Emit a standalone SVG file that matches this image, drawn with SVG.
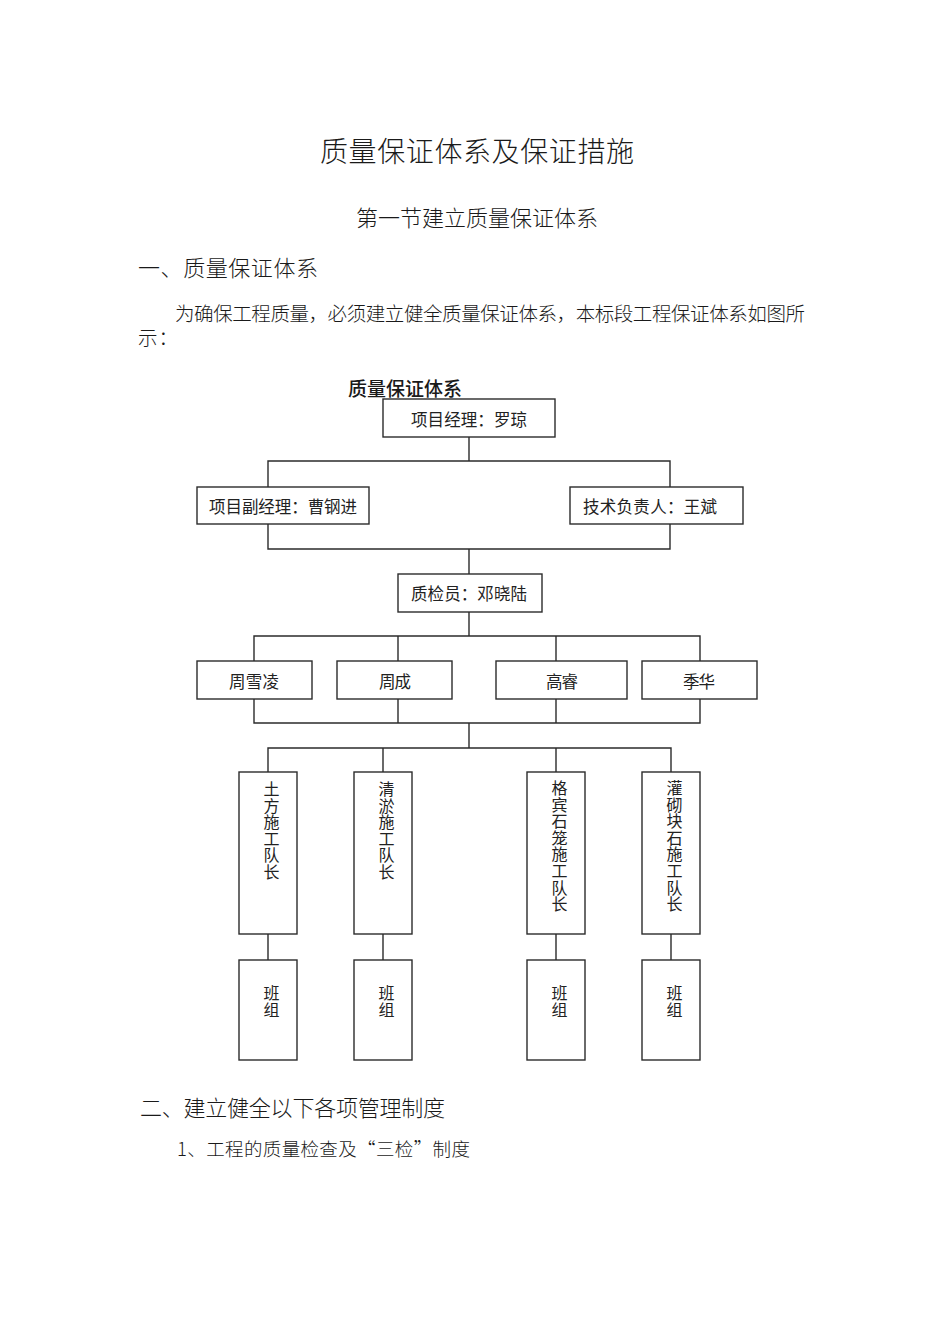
<svg xmlns="http://www.w3.org/2000/svg" width="950" height="1344" viewBox="0 0 950 1344">
<style>
text{font-family:"Noto Sans CJK SC","Liberation Serif",serif;fill:#1a1a1a}
.doc{font-weight:300}
.box{fill:#fff;stroke:#2b2b2b;stroke-width:1.4}
.lbl{font-size:16.5px;text-anchor:middle;fill:#222}
.vt{font-size:16px;fill:#222;writing-mode:vertical-rl;text-orientation:upright;letter-spacing:0.6px}
.ln{fill:none;stroke:#2b2b2b;stroke-width:1.4}
</style>
<rect width="950" height="1344" fill="#fff"/>
<g id="doc-text" class="doc">
<text x="477" y="162" font-size="28" text-anchor="middle" textLength="314">质量保证体系及保证措施</text>
<text x="477" y="226" font-size="22" text-anchor="middle" textLength="242">第一节建立质量保证体系</text>
<text x="138" y="276" font-size="22" textLength="180">一、质量保证体系</text>
<text x="175" y="321" font-size="19.5" textLength="630">为确保工程质量，必须建立健全质量保证体系，本标段工程保证体系如图所</text>
<text x="138" y="345" font-size="19.5" textLength="40">示：</text>
<text x="140" y="1116" font-size="22" textLength="305">二、建立健全以下各项管理制度</text>
<text x="177" y="1156" font-size="18.5" textLength="293">1、工程的质量检查及“三检”制度</text>
</g>
<text id="chart-title" x="405" y="396" font-size="19" font-weight="500" text-anchor="middle" textLength="114" fill="#111">质量保证体系</text>
<g id="connectors">
<path class="ln" d="M469 437V461M268 487V461H670V487M268 524V549H670V524M469 549V574M469 612V636M254 661V636H700V661M398 636V661M556 636V661M254 699V723H700V699M398 699V723M556 699V723M469 723V748M268 772V748H671V772M383 748V772M556 748V772M268 934V960M383 934V960M556 934V960M671 934V960"/>
</g>
<g id="n-pm"><rect class="box" x="383" y="399" width="172" height="38"/><text class="lbl" x="469" y="426" textLength="116">项目经理：罗琼</text></g>
<g id="n-dpm"><rect class="box" x="197" y="487" width="172" height="37"/><text class="lbl" x="283" y="513" textLength="148">项目副经理：曹钢进</text></g>
<g id="n-tech"><rect class="box" x="570" y="487" width="173" height="37"/><text class="lbl" x="650" y="513" textLength="134">技术负责人：王斌</text></g>
<g id="n-qc"><rect class="box" x="398" y="574" width="144" height="38"/><text class="lbl" x="469" y="600" textLength="116">质检员：邓晓陆</text></g>
<g id="n-m1"><rect class="box" x="197" y="661" width="115" height="38"/><text class="lbl" x="254" y="688" textLength="50">周雪凌</text></g>
<g id="n-m2"><rect class="box" x="337" y="661" width="115" height="38"/><text class="lbl" x="395" y="688" textLength="32">周成</text></g>
<g id="n-m3"><rect class="box" x="496" y="661" width="131" height="38"/><text class="lbl" x="562" y="688" textLength="32">高睿</text></g>
<g id="n-m4"><rect class="box" x="642" y="661" width="115" height="38"/><text class="lbl" x="699" y="688" textLength="32">季华</text></g>
<g id="n-t1"><rect class="box" x="239" y="772" width="58" height="162"/><text class="vt" x="271.5" y="781">土方施工队长</text></g>
<g id="n-t2"><rect class="box" x="354" y="772" width="58" height="162"/><text class="vt" x="386.5" y="781">清淤施工队长</text></g>
<g id="n-t3"><rect class="box" x="527" y="772" width="58" height="162"/><text class="vt" x="559.5" y="780">格宾石笼施工队长</text></g>
<g id="n-t4"><rect class="box" x="642" y="772" width="58" height="162"/><text class="vt" x="674.5" y="780">灌砌块石施工队长</text></g>
<g id="n-g1"><rect class="box" x="239" y="960" width="58" height="100"/><text class="vt" x="271.5" y="985">班组</text></g>
<g id="n-g2"><rect class="box" x="354" y="960" width="58" height="100"/><text class="vt" x="386.5" y="985">班组</text></g>
<g id="n-g3"><rect class="box" x="527" y="960" width="58" height="100"/><text class="vt" x="559.5" y="985">班组</text></g>
<g id="n-g4"><rect class="box" x="642" y="960" width="58" height="100"/><text class="vt" x="674.5" y="985">班组</text></g>
</svg>
